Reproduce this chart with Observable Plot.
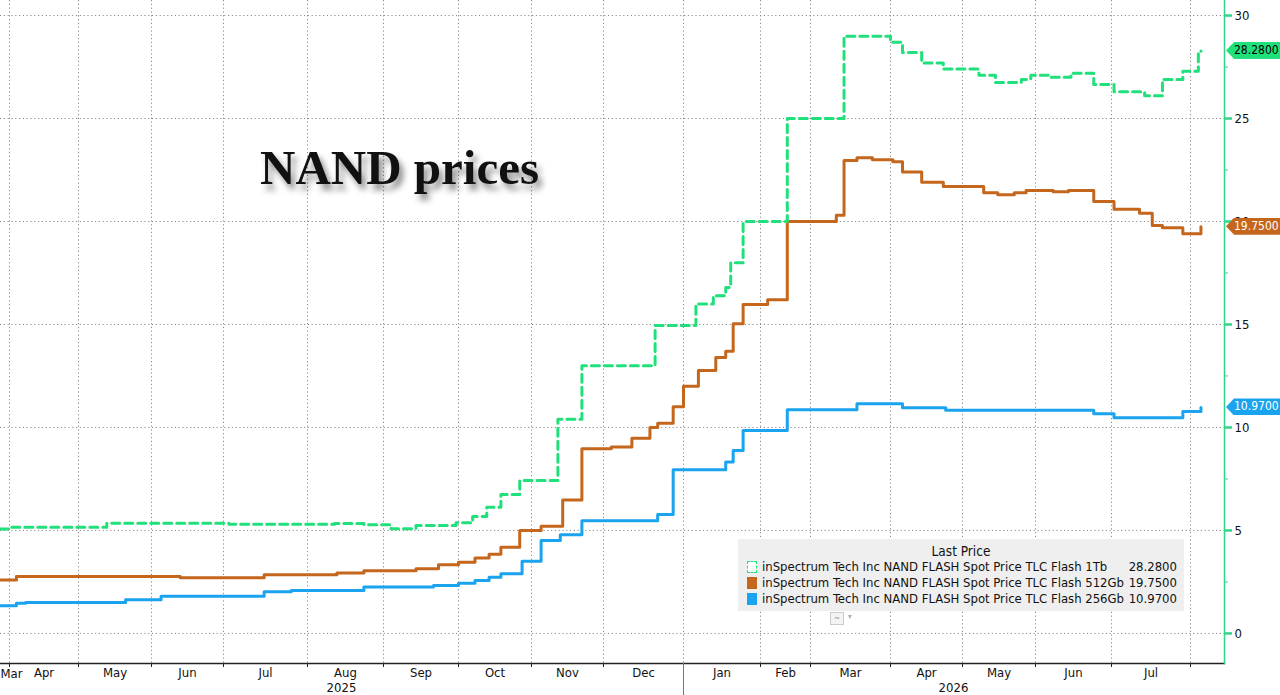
<!DOCTYPE html>
<html>
<head>
<meta charset="utf-8">
<script src="https://cdn.jsdelivr.net/npm/d3@7"></script>
<script src="https://cdn.jsdelivr.net/npm/@observablehq/plot@0.6"></script>
<style>
  body { margin: 0; background: #fff; }
  #wrap { position: relative; width: 1280px; height: 695px; overflow: hidden; font-family: "DejaVu Sans Condensed", "DejaVu Sans", sans-serif; }
  #title { position: absolute; left: 260px; top: 143px; font-family: "Liberation Serif", serif; font-weight: bold; font-size: 49px; line-height: 1; color: #111; text-shadow: 4px 6px 6px rgba(0,0,0,0.45); white-space: nowrap; }
  .legend { position: absolute; left: 738px; top: 539px; width: 446px; height: 72px; background: #efefef; font-size: 13px; color: #111; }
  .legend .lh { position: absolute; left: 0; right: 0; top: 4px; line-height: 16px; text-align: center; font-size: 13.5px; }
  .legend .row { position: absolute; left: 0; right: 0; height: 16px; line-height: 16px; white-space: nowrap; }
  .legend .sw { position: absolute; left: 9px; top: 2px; width: 10px; height: 12px; box-sizing: border-box; }
  .legend .nm { position: absolute; left: 24px; font-size: 13px; white-space: nowrap; }
  .legend .vl { position: absolute; right: 7px; }
  .vbox { position: absolute; left: 1226px; width: 54px; height: 17px; line-height: 17px; font-size: 12px; box-sizing: border-box; padding-left: 8px; clip-path: polygon(8px 0, 100% 0, 100% 100%, 8px 100%, 0 50%); }
  .icon { position: absolute; left: 830px; top: 612px; width: 12px; height: 11px; border: 1px solid #ccc; background: #f4f4f4; font-size: 8px; line-height: 11px; text-align: center; color: #888; }
  .icon2 { position: absolute; left: 848px; top: 612px; font-size: 8px; color: #aaa; }
</style>
</head>
<body>
<div id="wrap"></div>
<script>
// ---- data ----
const seriesNames = [
  "inSpectrum Tech Inc NAND FLASH Spot Price TLC Flash 1Tb",
  "inSpectrum Tech Inc NAND FLASH Spot Price TLC Flash 512Gb",
  "inSpectrum Tech Inc NAND FLASH Spot Price TLC Flash 256Gb"
];
const seriesLast = [28.28, 19.75, 10.97];
const seriesColors = ["#1fe07a", "#c5661d", "#1aa3ef"];

const flash1Tb = [
  ["2025-03-27", 5.07], ["2025-04-02", 5.15], ["2025-05-13", 5.35], ["2025-07-03", 5.30],
  ["2025-08-12", 5.34], ["2025-08-24", 5.28], ["2025-09-04", 5.08], ["2025-09-14", 5.24],
  ["2025-09-30", 5.37], ["2025-10-07", 5.68], ["2025-10-13", 6.13], ["2025-10-19", 6.75],
  ["2025-10-27", 7.43], ["2025-11-12", 10.4], ["2025-11-22", 13.0], ["2025-12-21", 14.95],
  ["2026-01-06", 16.0], ["2026-01-13", 16.4], ["2026-01-18", 16.8], ["2026-01-20", 18.0],
  ["2026-01-25", 20.0], ["2026-02-16", 25.0], ["2026-03-14", 29.0], ["2026-04-01", 28.7],
  ["2026-04-06", 28.2], ["2026-04-14", 27.7], ["2026-04-23", 27.4], ["2026-05-08", 27.1],
  ["2026-05-15", 26.75], ["2026-05-26", 26.9], ["2026-05-30", 27.1], ["2026-06-07", 27.0],
  ["2026-06-15", 27.2], ["2026-06-24", 26.65], ["2026-07-02", 26.3], ["2026-07-14", 26.1],
  ["2026-07-21", 26.9], ["2026-07-29", 27.3], ["2026-08-04", 28.15], ["2026-08-05", 28.28]
];

const flash512Gb = [
  ["2025-03-27", 2.60], ["2025-04-04", 2.77], ["2025-06-13", 2.70], ["2025-07-16", 2.85],
  ["2025-08-13", 2.93], ["2025-08-24", 3.04], ["2025-09-14", 3.14], ["2025-09-23", 3.33],
  ["2025-10-01", 3.46], ["2025-10-08", 3.66], ["2025-10-14", 3.85], ["2025-10-19", 4.19],
  ["2025-10-27", 5.0], ["2025-11-05", 5.2], ["2025-11-14", 6.48], ["2025-11-22", 8.97],
  ["2025-12-04", 9.05], ["2025-12-12", 9.48], ["2025-12-19", 10.0], ["2025-12-22", 10.2],
  ["2025-12-28", 11.0], ["2026-01-01", 12.0], ["2026-01-07", 12.77], ["2026-01-14", 13.4],
  ["2026-01-18", 13.7], ["2026-01-21", 15.03], ["2026-01-25", 15.97], ["2026-02-05", 16.2],
  ["2026-02-16", 20.0], ["2026-03-11", 20.3], ["2026-03-14", 22.96], ["2026-03-19", 23.09],
  ["2026-03-25", 23.0], ["2026-04-02", 22.9], ["2026-04-06", 22.4], ["2026-04-14", 21.9],
  ["2026-04-23", 21.7], ["2026-05-10", 21.4], ["2026-05-16", 21.3], ["2026-05-23", 21.4],
  ["2026-05-28", 21.5], ["2026-06-08", 21.45], ["2026-06-14", 21.5], ["2026-06-24", 20.97],
  ["2026-07-02", 20.6], ["2026-07-12", 20.4], ["2026-07-17", 19.8], ["2026-07-21", 19.7],
  ["2026-07-29", 19.4], ["2026-08-05", 19.75]
];

const flash256Gb = [
  ["2025-03-27", 1.34], ["2025-04-04", 1.47], ["2025-04-08", 1.50], ["2025-05-21", 1.63],
  ["2025-06-05", 1.81], ["2025-07-16", 2.02], ["2025-07-26", 2.09], ["2025-08-24", 2.25],
  ["2025-09-21", 2.33], ["2025-10-01", 2.44], ["2025-10-08", 2.57], ["2025-10-14", 2.73],
  ["2025-10-19", 2.90], ["2025-10-28", 3.50], ["2025-11-05", 4.51], ["2025-11-13", 4.79],
  ["2025-11-22", 5.47], ["2025-12-22", 5.78], ["2025-12-28", 7.95], ["2026-01-18", 8.32],
  ["2026-01-21", 8.88], ["2026-01-25", 9.85], ["2026-02-16", 10.86], ["2026-03-19", 11.15],
  ["2026-04-06", 10.96], ["2026-04-24", 10.83], ["2026-06-24", 10.67], ["2026-07-02", 10.47],
  ["2026-07-29", 10.78], ["2026-08-05", 10.97]
];

const yTicks = [0, 5, 10, 15, 20, 25, 30];
const yMinorTicks = [2.5, 7.5, 12.5, 17.5, 22.5, 27.5];
const xStart = new Date("2025-03-27");
const xEnd = new Date("2026-08-14");
const yDomain = [-1.46, 30.73];
const firstMonthLabel = "Mar";

// ---- build ----
const toRows = arr => arr.map(([d, v]) => ({date: new Date(d), value: v}));
const allSeries = [flash1Tb, flash512Gb, flash256Gb].map(toRows);

const monthStarts = d3.utcMonth.range(xStart, xEnd);
// The source chart spaces months unevenly (it plots by observation, not by calendar),
// so the time axis is piecewise: one segment per month, breakpoints at month starts.
const xBreaks = [xStart, ...monthStarts, xEnd];
const xBreakPixels = [0, 9, 78, 151, 223, 307, 383, 458, 531, 603, 683, 760, 810, 890, 962, 1035, 1111, 1190, 1224];

const monthMids = d3.utcMonth.range(d3.utcMonth.floor(xStart), xEnd)
  .map(m => new Date((+m + +d3.utcMonth.offset(m, 1)) / 2))
  .filter(d => d >= xStart && d <= xEnd);
const yearStart2026 = new Date("2026-01-01");
const yearLabels = [{label: "2025"}, {label: "2026"}];

const grid = {stroke: "#8a8a8a", strokeOpacity: 1, strokeDasharray: "1.2,2.6", strokeWidth: 1};

const plot = Plot.plot({
  width: 1280,
  height: 695,
  marginLeft: 0,
  marginRight: 56,
  marginTop: 0,
  marginBottom: 32,
  style: {fontFamily: "'DejaVu Sans Condensed', 'DejaVu Sans', sans-serif", fontSize: "13px", background: "#fff", color: "#111"},
  x: {type: "utc", domain: xBreaks, range: xBreakPixels},
  y: {domain: yDomain},
  marks: [
    Plot.gridX(monthStarts, grid),
    Plot.gridY(yTicks, grid),
    Plot.line(allSeries[2], {x: "date", y: "value", curve: "step-after", stroke: seriesColors[2], strokeWidth: 3}),
    Plot.line(allSeries[1], {x: "date", y: "value", curve: "step-after", stroke: seriesColors[1], strokeWidth: 3}),
    Plot.line(allSeries[0], {x: "date", y: "value", curve: "step-after", stroke: seriesColors[0], strokeWidth: 3, strokeDasharray: "8,5"}),
    Plot.frame({anchor: "bottom", stroke: "#222", strokeWidth: 1.5}),
    Plot.frame({anchor: "right", stroke: "#2fd68a", strokeWidth: 1.5}),
    Plot.axisY({anchor: "right", ticks: yTicks, tickSize: 7, tickPadding: 3, stroke: "#2fd68a", strokeWidth: 2.5, fill: "#111", fontSize: 13, label: null}),
    Plot.axisY({anchor: "right", ticks: yMinorTicks, tickSize: 3, tickFormat: () => "", stroke: "#2fd68a", label: null}),
    Plot.axisX({ticks: monthStarts, tickSize: 4, tickFormat: () => "", stroke: "#222", label: null}),
    Plot.axisX({ticks: [yearStart2026], tickSize: 32, tickFormat: () => "", stroke: "#777", label: null}),
    Plot.axisX({ticks: monthMids, tickSize: 0, tickPadding: 4, tickFormat: d3.utcFormat("%b"), fill: "#111", fontSize: 13, label: null}),
    Plot.text([xStart], {x: d => d, text: [firstMonthLabel], frameAnchor: "bottom", dy: 10, textAnchor: "start", lineAnchor: "middle", fill: "#111", fontSize: 13})
  ]
});

const wrap = document.getElementById("wrap");
wrap.appendChild(plot);

// year labels, centred on each year's visible span using the plot's x scale
const xScale = plot.scale("x");
const yearSpans = [[xStart, yearStart2026], [yearStart2026, xEnd]];
const svgNS = "http://www.w3.org/2000/svg";
yearLabels.forEach((yl, i) => {
  const cx = (xScale.apply(yearSpans[i][0]) + xScale.apply(yearSpans[i][1])) / 2;
  const t = document.createElementNS(svgNS, "text");
  t.setAttribute("x", cx);
  t.setAttribute("y", 695 - 32 + 25);
  t.setAttribute("text-anchor", "middle");
  t.setAttribute("dy", "0.32em");
  t.setAttribute("fill", "#111");
  t.setAttribute("font-size", "13");
  t.textContent = yl.label;
  plot.appendChild(t);
});

const title = document.createElement("div");
title.id = "title";
title.textContent = "NAND prices";
wrap.appendChild(title);

// value boxes on the right axis, placed with the plot's y scale
const yScale = plot.scale("y");
const textColors = ["#000", "#fff", "#fff"];
seriesLast.forEach((v, i) => {
  const b = document.createElement("div");
  b.className = "vbox";
  b.style.top = (yScale.apply(v) - 8.5) + "px";
  b.style.background = seriesColors[i];
  b.style.color = textColors[i];
  b.textContent = v.toFixed(4);
  wrap.appendChild(b);
});

// legend
const lg = document.createElement("div");
lg.className = "legend";
const lh = document.createElement("div");
lh.className = "lh";
lh.textContent = "Last Price";
lg.appendChild(lh);
const nameSpans = [];
seriesNames.forEach((name, i) => {
  const r = document.createElement("div");
  r.className = "row";
  r.style.top = (20 + i * 16) + "px";
  const sw = document.createElement("div");
  sw.className = "sw";
  if (i === 0) { sw.style.border = "1.5px dashed " + seriesColors[0]; sw.style.background = "#fff"; }
  else sw.style.background = seriesColors[i];
  const nm = document.createElement("span");
  nm.className = "nm";
  nm.textContent = name;
  nameSpans.push(nm);
  const vl = document.createElement("span");
  vl.className = "vl";
  vl.textContent = seriesLast[i].toFixed(4);
  r.appendChild(sw); r.appendChild(nm); r.appendChild(vl);
  lg.appendChild(r);
});
wrap.appendChild(lg);

// stretch the legend names so the longest one spans the same width as in the source
const longest = nameSpans[1];
const w0 = longest.getBoundingClientRect().width;
const targetW = 362;
const ls = (targetW - w0) / longest.textContent.length;
nameSpans.forEach(s => { s.style.letterSpacing = ls.toFixed(3) + "px"; });

const ic = document.createElement("div");
ic.className = "icon"; ic.textContent = "~";
wrap.appendChild(ic);
const ic2 = document.createElement("div");
ic2.className = "icon2"; ic2.textContent = "▾";
wrap.appendChild(ic2);
</script>
</body>
</html>
